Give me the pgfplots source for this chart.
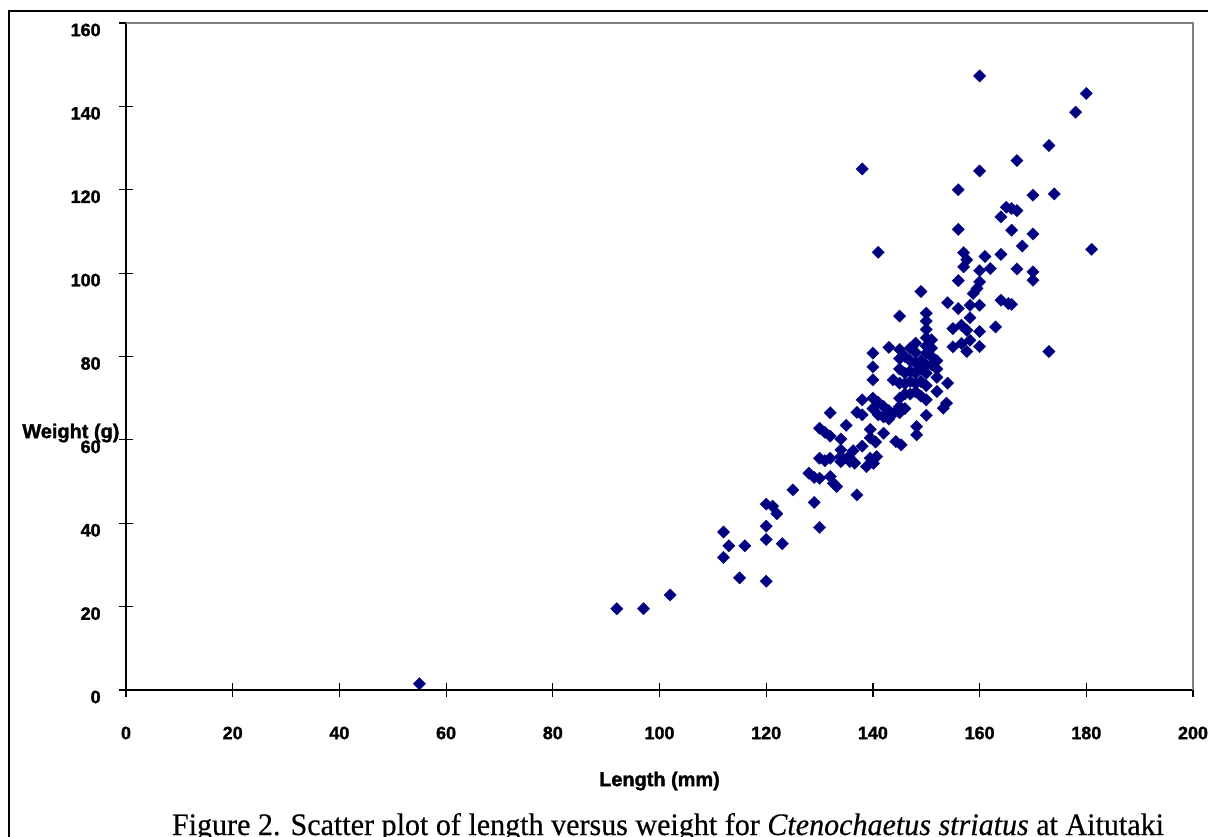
\documentclass[border=0pt]{standalone}
\usepackage{pgfplots}
\pgfplotsset{compat=1.18}
\usepackage{pgfplotstable}
\usepackage{fontspec}
\setmainfont{Liberation Sans}[BoldFeatures={FakeBold=1.6}]
\newfontfamily\capfont{Liberation Serif}[FakeBold=0.4, ItalicFeatures={FakeBold=0.4}]
\definecolor{navy}{HTML}{000080}
\pgfplotstableread{
x y
55 1.5
92 19.5
97 19.5
102 22.8
112 37.9
112 31.8
113 34.6
115 26.9
116 34.6
120 44.6
120 39.3
120 36.1
120 26.1
121.2 44.1
122 42.3
123 35.1
125 48.0
128 52
129 45
129 51
130 55.6
130 62.8
130 39
130 50.8
131 61.8
131 55
132 66.5
132 60.9
132 55.6
132 51.2
132.6 49.6
133.2 48.8
134 60.2
134 57.6
134 56
134 54.8
135 63.5
135.5 56
135.7 54.8
136.3 57.4
136.6 54.4
137 66.6
137 46.8
138 125
138 69.6
138 66
138 58.5
138.8 53.6
139.5 55.6
139.5 60.5
139.5 62.5
140 80.8
140 77.5
140 74.4
140 70
140 67.5
140.5 59.5
140.1 54.4
140.7 56
141 105
141 69
141 66
142 68
142 65.5
142 61.6
143 82.2
143 67
143 65
143.8 74.4
144.3 59.6
144 66.5
145 89.7
145 81.7
145 79.5
145 77
145 73.6
145 70
145 68
145 66.5
145.3 58.8
146 80
146 76
146 73.5
146 71
146 67.5
147 82
147 79
147 76.5
147 74
147 71
148 83.2
148 81
148 78.5
148 76
148 73.5
148 71.5
148.2 63.2
148.2 61.2
149 95.6
149 79
149 77
149 74
149 70.5
150 90.4
150 88.5
150 86.5
150 84.5
150 82.5
150 80.8
150 78
150 76
150 73
150 69.6
150 65.9
151 84
151 82
151 80
151 78
152 79
152 77
152 75
152 71.6
153.2 67.6
153.8 68.8
154 92.9
154 73.6
155 86.7
155 82.3
156 120
156 110.5
156 98.2
156 91.5
156.6 87.5
156.6 83.1
157 104.9
157.6 103.2
157 101.5
157.6 86.3
157.6 81.2
158.2 92.3
158.2 89.3
158.2 83.9
158.8 95.1
159.5 96.3
160 147.3
160 124.5
160 100.6
160 97.9
160 92.3
160 86
160 82.4
161 104
162 101.1
163 87.1
164 113.5
164 104.5
164 93.5
165 115.8
165.4 92.7
166 115.5
166 110.3
166 92.5
167 127
167 115
167 101
168 106.5
170 118.7
170 109.4
170 100.3
170 98.3
173 130.6
173 81.2
174 119
178 138.6
180 143.1
181 105.7
}\datatable
\begin{document}
\begin{tikzpicture}
\path[use as bounding box] (-63bp,-73.5bp) rectangle (541bp,345bp);
\draw[line width=1bp] (541bp,339.5bp) -- (-58.5bp,339.5bp) -- (-58.5bp,-80bp);
\begin{axis}[
  at={(0,0)}, anchor=south west,
  scale only axis, width=533.5bp, height=333.5bp,
  xmin=0, xmax=200, ymin=0, ymax=160,
  xtick={0,20,...,200}, ytick={0,20,...,160},
  axis x line*=bottom, axis y line*=left,
  axis line style={line width=0.8bp, black, -},
  tick align=center, major tick length=7bp,
  every tick/.style={black, line width=0.6bp},
  /pgf/number format/assume math mode=true,
  ticklabel style={font=\fontsize{9}{10}\selectfont\bfseries, inner sep=0pt},
  xticklabel style={anchor=center, yshift=-18bp},
  yticklabel style={anchor=east, xshift=-9bp, yshift=-3.5bp},
  xlabel={Length (mm)}, ylabel={Weight (g)},
  label style={font=\fontsize{10}{12}\selectfont\bfseries, inner sep=0pt},
  xlabel style={at={(axis description cs:0.5,0)}, anchor=center, yshift=-45.5bp},
  ylabel style={rotate=-90, at={(axis description cs:0,0)}, anchor=west, xshift=-52bp, yshift=128.5bp},
  clip=false,
]
\addplot[only marks, mark=square*, mark size=2.2bp, mark options={rotate=45, fill=navy, draw=navy, line width=0.1bp}] table[x=x, y=y] {\datatable};
\draw[gray, line width=0.8bp] (rel axis cs:0,1) -- (rel axis cs:1,1) -- (rel axis cs:1,0);
\end{axis}
\node[anchor=base, inner sep=0pt] at (271bp,-72.5bp) {\resizebox{496bp}{11bp}{\capfont Figure 2. Scatter plot of length versus weight for \textit{Ctenochaetus striatus} at Aitutaki}};
\end{tikzpicture}
\end{document}
